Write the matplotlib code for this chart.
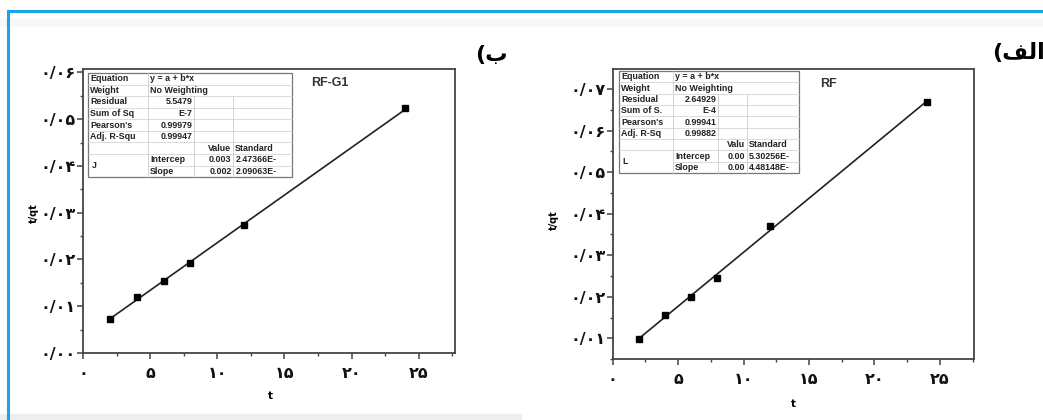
import numpy as np
import matplotlib
matplotlib.use("Agg")
import matplotlib.pyplot as plt
from matplotlib.ticker import MultipleLocator, FuncFormatter
from matplotlib.lines import Line2D
from matplotlib.patches import Rectangle

# data
t = [2, 4, 6, 8, 12, 24]
y_rf_g1 = [0.0073, 0.0119, 0.0153, 0.0193, 0.0273, 0.0523]
y_rf = [0.0098, 0.0156, 0.0200, 0.0246, 0.0370, 0.0669]

# fit report tables (as printed inside each plot)
table_g1 = [
    ["Equation", "y = a + b*x", "", ""],
    ["Weight", "No Weighting", "", ""],
    ["Residual", "5.5479", "", ""],
    ["Sum of Sq", "E-7", "", ""],
    ["Pearson's", "0.99979", "", ""],
    ["Adj. R-Squ", "0.99947", "", ""],
    ["", "", "Value", "Standard"],
    ["J", "Intercep", "0.003", "2.47366E-"],
    ["", "Slope", "0.002", "2.09063E-"],
]
table_rf = [
    ["Equation", "y = a + b*x", "", ""],
    ["Weight", "No Weighting", "", ""],
    ["Residual", "2.64929", "", ""],
    ["Sum of S.", "E-4", "", ""],
    ["Pearson's", "0.99941", "", ""],
    ["Adj. R-Sq", "0.99882", "", ""],
    ["", "", "Valu", "Standard"],
    ["L", "Intercep", "0.00", "5.30256E-"],
    ["", "Slope", "0.00", "4.48148E-"],
]

FA = str.maketrans("0123456789.", "۰۱۲۳۴۵۶۷۸۹/")


def fa_y(v, pos):
    return "{:.2f}".format(v).translate(FA)


def fa_x(v, pos):
    return "{:g}".format(v).translate(FA)


def draw_table(ax, rows, box, cols):
    x0, y0, x1, y1 = box
    n = len(rows)
    h = (y1 - y0) / n
    grey = "#cccccc"
    ax.add_patch(Rectangle((x0, y0), x1 - x0, y1 - y0, transform=ax.transAxes,
                           fill=True, fc="white", ec="#777777", lw=0.9, zorder=4))
    for i in range(1, n):
        yy = y1 - i * h
        xs = cols[0] if i == n - 1 else x0
        ax.plot([xs, x1], [yy, yy], color=grey, lw=0.5, transform=ax.transAxes, zorder=5)
    ax.plot([cols[0], cols[0]], [y0, y1], color=grey, lw=0.6, transform=ax.transAxes, zorder=5)
    for c in cols[1:]:
        ax.plot([c, c], [y0, y1 - 2 * h], color=grey, lw=0.6, transform=ax.transAxes, zorder=5)
    kw = dict(transform=ax.transAxes, fontsize=6.4, fontweight="bold", color="#222222",
              va="center", zorder=6, family="Liberation Sans")
    for i, r in enumerate(rows):
        yc = y1 - (i + 0.5) * h
        if r[0] and i < n - 2:
            ax.text(x0 + 0.006, yc, r[0], ha="left", **kw)
        if r[1]:
            if i < 2 or i >= n - 2:
                ax.text(cols[0] + 0.006, yc, r[1], ha="left", **kw)
            else:
                ax.text(cols[1] - 0.004, yc, r[1], ha="right", **kw)
        if r[2]:
            ax.text(cols[2] - 0.004, yc, r[2], ha="right", **kw)
        if r[3]:
            ax.text(cols[2] + 0.006, yc, r[3], ha="left", **kw)
    ax.text(x0 + 0.01, y0 + h, rows[n - 2][0], ha="left", **kw)


def style(ax, xmax, ylim, ymajor):
    ax.set_xlim(0, xmax)
    ax.set_ylim(*ylim)
    ax.xaxis.set_major_locator(MultipleLocator(5))
    ax.xaxis.set_minor_locator(MultipleLocator(2.5))
    ax.yaxis.set_minor_locator(MultipleLocator(0.005))
    ax.set_yticks(ymajor)
    ax.xaxis.set_major_formatter(FuncFormatter(fa_x))
    ax.yaxis.set_major_formatter(FuncFormatter(fa_y))
    for s in ax.spines.values():
        s.set_linewidth(1.3)
        s.set_color("#444444")
    ax.tick_params(which="major", direction="out", length=4, width=1.1, color="#444444")
    ax.tick_params(which="minor", direction="out", length=2.5, width=1, color="#444444")
    ax.tick_params(axis="y", pad=1)
    ax.tick_params(axis="x", pad=5)
    for lab in ax.get_xticklabels() + ax.get_yticklabels():
        lab.set_fontfamily("DejaVu Sans")
        lab.set_fontweight("bold")
        lab.set_fontsize(11.5)
        lab.set_color("#111111")


def plot_panel(ax, x, y):
    b, a = np.polyfit(x, y, 1)
    xs = np.array([x[0], x[-1]])
    ax.plot(xs, a + b * xs, color="#222222", lw=1.2, zorder=3)
    ax.plot(x, y, "s", color="black", ms=5, zorder=4)


fig = plt.figure(figsize=(10.43, 4.2), dpi=100)

# page decoration: blue frame and grey strips
fig.add_artist(Rectangle((0.0, 0.935), 1, 0.02, transform=fig.transFigure, color="#f8f8f8", lw=0))
fig.add_artist(Rectangle((0.0, 0.0), 0.5, 0.014, transform=fig.transFigure, color="#eeeeee", lw=0))
fig.add_artist(Line2D([0.0077, 1.0], [0.975, 0.975], transform=fig.transFigure, color="#19a5e6", lw=2.2))
fig.add_artist(Line2D([0.0077, 0.0077], [0.0, 0.975], transform=fig.transFigure, color="#19a5e6", lw=2.2))

ax1 = fig.add_axes([0.0796, 0.1595, 0.3567, 0.676])
plot_panel(ax1, t, y_rf_g1)
style(ax1, 27.7, (0, 0.0607), [0.0, 0.01, 0.02, 0.03, 0.04, 0.05, 0.06])
draw_table(ax1, table_g1, (0.0134, 0.6197, 0.5618, 0.986), [0.1747, 0.2984, 0.4032])
ax1.text(0.664, 0.951, "RF-G1", transform=ax1.transAxes, fontsize=9, fontweight="bold",
         color="#333333", ha="center", va="center", family="Liberation Sans")
ax1.set_xlabel("t", fontsize=7.5, fontweight="bold")
ax1.set_ylabel("t/qt", fontsize=7, fontweight="bold")
ax1.xaxis.set_label_coords(0.503, -0.134)
ax1.yaxis.set_label_coords(-0.118, 0.493)

ax2 = fig.add_axes([0.5874, 0.1452, 0.3464, 0.6898])
plot_panel(ax2, t, y_rf)
style(ax2, 27.6, (0.005, 0.0748), [0.01, 0.02, 0.03, 0.04, 0.05, 0.06, 0.07])
draw_table(ax2, table_rf, (0.0174, 0.642, 0.5157, 0.9941), [0.1669, 0.2914, 0.3717])
ax2.text(0.596, 0.949, "RF", transform=ax2.transAxes, fontsize=9, fontweight="bold",
         color="#333333", ha="center", va="center", family="Liberation Sans")
ax2.set_xlabel("t", fontsize=7.5, fontweight="bold")
ax2.set_ylabel("t/qt", fontsize=7, fontweight="bold")
ax2.xaxis.set_label_coords(0.499, -0.138)
ax2.yaxis.set_label_coords(-0.149, 0.48)

# panel letters (visual order, presentation forms)
fig.text(0.456, 0.869, "(\uFE8F", fontsize=16, fontweight="bold", ha="left", va="center",
         family="DejaVu Sans")
fig.text(0.951, 0.874, "(\uFED2\uFEDF\uFE8D", fontsize=16, fontweight="bold", ha="left",
         va="center", family="DejaVu Sans")

fig.savefig("out.png", dpi=100)
